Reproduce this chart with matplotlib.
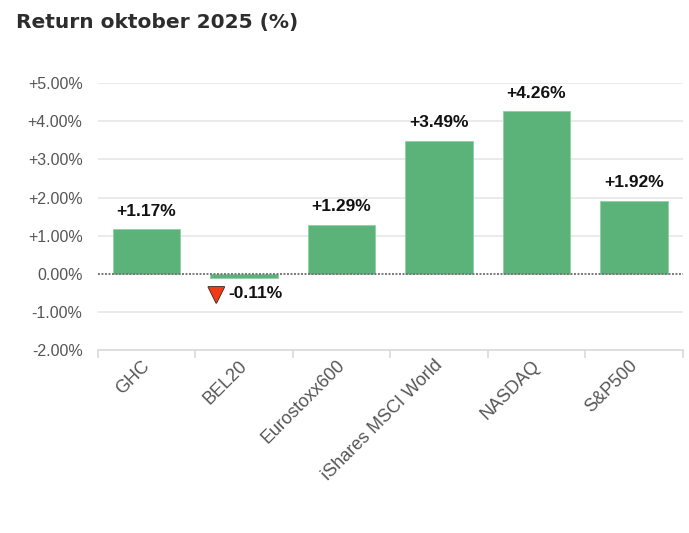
import matplotlib
import matplotlib.pyplot as plt
import matplotlib.patheffects as pe
import matplotlib.transforms as mtransforms
import numpy as np

matplotlib.use('Agg')

plt.rcParams['font.family'] = ['Liberation Sans', 'DejaVu Sans']

categories = ['GHC', 'BEL20', 'Eurostoxx600', 'iShares MSCI World', 'NASDAQ', 'S&P500']
returns = [1.17, -0.11, 1.29, 3.49, 4.26, 1.92]
yticks = [-2, -1, 0, 1, 2, 3, 4, 5]

bar_color = '#5BB379'

fig = plt.figure(figsize=(6.89, 5.33), dpi=100)
ax = fig.add_axes([0.142, 0.343, 0.849, 0.501])

x = np.arange(len(categories))
ax.bar(x, returns, width=0.69, color=bar_color, edgecolor='#8fd0a5', linewidth=0.6, zorder=2)

ax.set_xlim(-0.5, len(categories) - 0.5)
ax.set_ylim(-2, 5)

# grid
for t in yticks:
    if t == 0:
        ax.axhline(0, color='#777777', lw=1.4, ls=(0, (1, 0.8)), zorder=3)
    elif t != -2:
        ax.axhline(t, color='#e6e6e6', lw=1.2, zorder=1)

for s in ['top', 'right', 'left']:
    ax.spines[s].set_visible(False)
ax.spines['bottom'].set_color('#d9d9d9')
ax.spines['bottom'].set_linewidth(1.2)

ax.set_yticks(yticks)
ax.set_yticklabels([('+' if t > 0 else '') + f'{t:.2f}%' for t in yticks],
                   fontsize=11.5, color='#555555')
ax.tick_params(axis='y', length=0, pad=11)

# category ticks sit between bars
ax.set_xticks(np.arange(len(categories) + 1) - 0.5, minor=True)
ax.tick_params(axis='x', which='minor', length=6, color='#d9d9d9', width=1.2)
ax.set_xticks(x)
ax.set_xticklabels(categories, rotation=45, ha='right', va='top', rotation_mode='anchor',
                   fontsize=13, color='#555555')
ax.tick_params(axis='x', which='major', length=0, pad=5)
shift = mtransforms.ScaledTranslation(-4 / 72, 0, fig.dpi_scale_trans)
for lbl in ax.get_xticklabels():
    lbl.set_transform(lbl.get_transform() + shift)

for i, v in enumerate(returns):
    lab = ('+' if v > 0 else '') + f'{v:.2f}%'
    if v >= 0:
        ax.annotate(lab, (i, v), xytext=(0, 7.5), textcoords='offset points',
                    ha='center', va='bottom', fontsize=12.5, fontweight='bold', color='#111111')
    else:
        ax.annotate(lab, (i, v), xytext=(8.5, -6), textcoords='offset points',
                    ha='center', va='top', fontsize=12.5, fontweight='bold', color='#111111')
        ax.annotate('\u25BC', (i, v), xytext=(-20, -4.5), textcoords='offset points',
                    ha='center', va='top', fontsize=15, color='#f03c14',
                    family='DejaVu Sans',
                    path_effects=[pe.withStroke(linewidth=1.2, foreground='#3a2a25')])

fig.text(0.023, 0.948, 'Return oktober 2025 (%)', fontsize=14.5, fontweight='bold',
         color='#2d2d2d', family='DejaVu Sans', ha='left', va='baseline')

fig.savefig('out.png', dpi=100)
